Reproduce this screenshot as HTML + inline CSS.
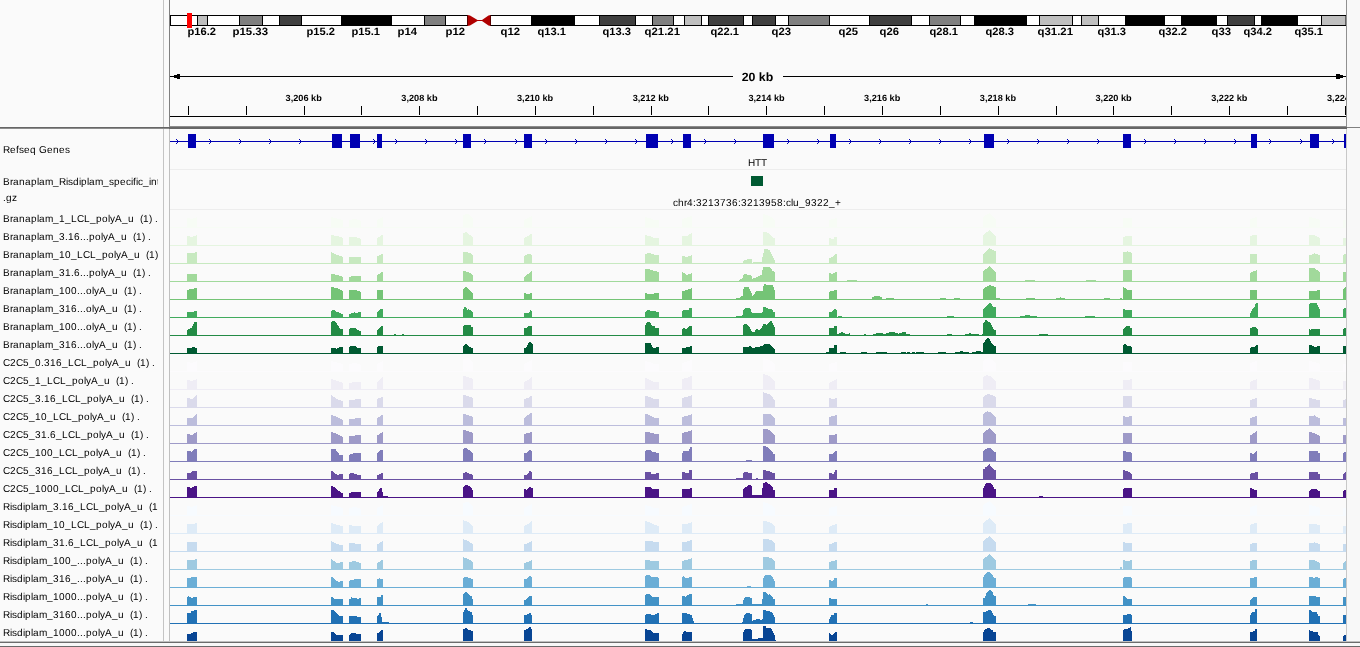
<!DOCTYPE html>
<html><head><meta charset="utf-8"><title>IGV</title>
<style>
html,body{margin:0;padding:0;background:#fafafa;}
body{width:1360px;height:647px;overflow:hidden;position:relative;font-family:"Liberation Sans", sans-serif;}
svg{position:absolute;left:0;top:0;display:block;}
text{font-family:"Liberation Sans", sans-serif;text-rendering:geometricPrecision;}
#root{position:absolute;left:0;top:0;width:1360px;height:647px;will-change:transform;}
</style></head><body><div id="root">
<svg width="1360" height="647" viewBox="0 0 1360 647">
<rect x="0" y="0" width="1360" height="647" fill="#fafafa"/>
<g shape-rendering="crispEdges">
<rect x="1347" y="0" width="13" height="647" fill="#f8f8f8"/>
<rect x="163" y="0" width="1" height="641" fill="#c4c4c4"/>
<rect x="169" y="0" width="1" height="127" fill="#808080"/>
<rect x="169" y="129" width="1" height="512" fill="#c0c0c0"/>
<rect x="1346" y="0" width="1" height="127" fill="#909090"/>
<rect x="1346" y="129" width="1" height="512" fill="#c8c8c8"/>
<rect x="0" y="127" width="1360" height="1" fill="#666666"/>
<rect x="0" y="128" width="169" height="1" fill="#8c8c8c"/>
<rect x="169" y="126" width="1178" height="1" fill="#8c8c8c"/>
<rect x="169" y="128" width="1178" height="1" fill="#666666"/>
<rect x="1347" y="127" width="13" height="1" fill="#808080"/>
<rect x="0" y="641" width="1360" height="1" fill="#c0c0c0"/>
<rect x="0" y="642" width="1360" height="1" fill="#6c6c6c"/>
<rect x="0" y="643" width="1360" height="3" fill="#f8f8f8"/>
<rect x="0" y="646" width="1360" height="1" fill="#6a6a6a"/>
</g>
<g>
<rect x="170.5" y="15.5" width="297" height="10" fill="#ffffff" stroke="#000" stroke-width="1"/>
<rect x="490.5" y="15.5" width="860" height="10" fill="#ffffff" stroke="#000" stroke-width="1"/>
<rect x="197.5" y="15.5" width="10" height="10" fill="#bfbfbf" stroke="#000" stroke-width="1"/>
<rect x="239.5" y="15.5" width="23" height="10" fill="#7f7f7f" stroke="#000" stroke-width="1"/>
<rect x="279.5" y="15.5" width="22" height="10" fill="#3f3f3f" stroke="#000" stroke-width="1"/>
<rect x="341.5" y="15.5" width="50" height="10" fill="#000000" stroke="#000" stroke-width="1"/>
<rect x="424.5" y="15.5" width="21" height="10" fill="#7f7f7f" stroke="#000" stroke-width="1"/>
<rect x="531.5" y="15.5" width="43" height="10" fill="#000000" stroke="#000" stroke-width="1"/>
<rect x="599.5" y="15.5" width="36" height="10" fill="#3f3f3f" stroke="#000" stroke-width="1"/>
<rect x="652.5" y="15.5" width="21" height="10" fill="#7f7f7f" stroke="#000" stroke-width="1"/>
<rect x="684.5" y="15.5" width="17" height="10" fill="#bfbfbf" stroke="#000" stroke-width="1"/>
<rect x="708.5" y="15.5" width="35" height="10" fill="#3f3f3f" stroke="#000" stroke-width="1"/>
<rect x="752.5" y="15.5" width="23" height="10" fill="#3f3f3f" stroke="#000" stroke-width="1"/>
<rect x="788.5" y="15.5" width="41" height="10" fill="#7f7f7f" stroke="#000" stroke-width="1"/>
<rect x="869.5" y="15.5" width="42" height="10" fill="#3f3f3f" stroke="#000" stroke-width="1"/>
<rect x="929.5" y="15.5" width="31" height="10" fill="#7f7f7f" stroke="#000" stroke-width="1"/>
<rect x="974.5" y="15.5" width="52" height="10" fill="#000000" stroke="#000" stroke-width="1"/>
<rect x="1039.5" y="15.5" width="33" height="10" fill="#bfbfbf" stroke="#000" stroke-width="1"/>
<rect x="1081.5" y="15.5" width="17" height="10" fill="#bfbfbf" stroke="#000" stroke-width="1"/>
<rect x="1125.5" y="15.5" width="39" height="10" fill="#000000" stroke="#000" stroke-width="1"/>
<rect x="1181.5" y="15.5" width="35" height="10" fill="#000000" stroke="#000" stroke-width="1"/>
<rect x="1227.5" y="15.5" width="27" height="10" fill="#3f3f3f" stroke="#000" stroke-width="1"/>
<rect x="1261.5" y="15.5" width="36" height="10" fill="#000000" stroke="#000" stroke-width="1"/>
<rect x="1321.5" y="15.5" width="24.5" height="10" fill="#bfbfbf" stroke="#000" stroke-width="1"/>
<polygon points="467.5,15 470,15.6 477.5,20 482,20 488.5,15.6 490.5,15 490.5,26 488.5,25.4 482,21 477.5,21 470,25.4 467.5,26" fill="#b00000"/>
<rect x="1347" y="10" width="13" height="20" fill="#f8f8f8"/>
<rect x="1346" y="10" width="1" height="20" fill="#909090"/>
<rect x="187" y="13" width="5" height="15" fill="#ff0000" shape-rendering="crispEdges"/>
</g>
<g font-size="10.6" font-weight="bold" fill="#000">
<text x="187.5" y="35" textLength="28.5" lengthAdjust="spacingAndGlyphs">p16.2</text>
<text x="232.5" y="35" textLength="35.5" lengthAdjust="spacingAndGlyphs">p15.33</text>
<text x="306.5" y="35" textLength="28.5" lengthAdjust="spacingAndGlyphs">p15.2</text>
<text x="351.5" y="35" textLength="28.5" lengthAdjust="spacingAndGlyphs">p15.1</text>
<text x="397.5" y="35" textLength="19.5" lengthAdjust="spacingAndGlyphs">p14</text>
<text x="445.5" y="35" textLength="19.5" lengthAdjust="spacingAndGlyphs">p12</text>
<text x="500.5" y="35" textLength="19.5" lengthAdjust="spacingAndGlyphs">q12</text>
<text x="537.5" y="35" textLength="28.5" lengthAdjust="spacingAndGlyphs">q13.1</text>
<text x="602.5" y="35" textLength="28.5" lengthAdjust="spacingAndGlyphs">q13.3</text>
<text x="644.5" y="35" textLength="35.5" lengthAdjust="spacingAndGlyphs">q21.21</text>
<text x="710.5" y="35" textLength="28.5" lengthAdjust="spacingAndGlyphs">q22.1</text>
<text x="771.5" y="35" textLength="19.5" lengthAdjust="spacingAndGlyphs">q23</text>
<text x="838.5" y="35" textLength="19.5" lengthAdjust="spacingAndGlyphs">q25</text>
<text x="879.5" y="35" textLength="19.5" lengthAdjust="spacingAndGlyphs">q26</text>
<text x="929.5" y="35" textLength="28.5" lengthAdjust="spacingAndGlyphs">q28.1</text>
<text x="985.5" y="35" textLength="28.5" lengthAdjust="spacingAndGlyphs">q28.3</text>
<text x="1037.5" y="35" textLength="35.5" lengthAdjust="spacingAndGlyphs">q31.21</text>
<text x="1097.5" y="35" textLength="28.5" lengthAdjust="spacingAndGlyphs">q31.3</text>
<text x="1158.5" y="35" textLength="28.5" lengthAdjust="spacingAndGlyphs">q32.2</text>
<text x="1211.5" y="35" textLength="19.5" lengthAdjust="spacingAndGlyphs">q33</text>
<text x="1243.5" y="35" textLength="28.5" lengthAdjust="spacingAndGlyphs">q34.2</text>
<text x="1294.5" y="35" textLength="28.5" lengthAdjust="spacingAndGlyphs">q35.1</text>
</g>
<g shape-rendering="crispEdges" fill="#000">
<rect x="170" y="76" width="563" height="1"/>
<rect x="783" y="76" width="563" height="1"/>
<rect x="170" y="116" width="1176" height="1"/>
<rect x="188" y="106" width="1" height="9"/>
<rect x="246" y="106" width="1" height="9"/>
<rect x="304" y="106" width="1" height="9"/>
<rect x="361" y="106" width="1" height="9"/>
<rect x="419" y="106" width="1" height="9"/>
<rect x="477" y="106" width="1" height="9"/>
<rect x="535" y="106" width="1" height="9"/>
<rect x="593" y="106" width="1" height="9"/>
<rect x="651" y="106" width="1" height="9"/>
<rect x="708" y="106" width="1" height="9"/>
<rect x="766" y="106" width="1" height="9"/>
<rect x="824" y="106" width="1" height="9"/>
<rect x="882" y="106" width="1" height="9"/>
<rect x="940" y="106" width="1" height="9"/>
<rect x="998" y="106" width="1" height="9"/>
<rect x="1056" y="106" width="1" height="9"/>
<rect x="1113" y="106" width="1" height="9"/>
<rect x="1171" y="106" width="1" height="9"/>
<rect x="1229" y="106" width="1" height="9"/>
<rect x="1287" y="106" width="1" height="9"/>
<rect x="1345" y="106" width="1" height="9"/>
</g>
<path shape-rendering="crispEdges" fill="#000" d="M174,75h3v-1h3v5h-3v-1h-3z M1336,74h4v1h3v3h-3v1h-4z"/>
<text x="757.5" y="81" font-size="12" font-weight="bold" text-anchor="middle" textLength="31.6" lengthAdjust="spacingAndGlyphs">20 kb</text>
<g font-size="9" font-weight="bold" text-anchor="middle" fill="#000">
<text x="303.7" y="101" textLength="36.2" lengthAdjust="spacingAndGlyphs">3,206 kb</text>
<text x="419.4" y="101" textLength="36.2" lengthAdjust="spacingAndGlyphs">3,208 kb</text>
<text x="535.1" y="101" textLength="36.2" lengthAdjust="spacingAndGlyphs">3,210 kb</text>
<text x="650.8" y="101" textLength="36.2" lengthAdjust="spacingAndGlyphs">3,212 kb</text>
<text x="766.5" y="101" textLength="36.2" lengthAdjust="spacingAndGlyphs">3,214 kb</text>
<text x="882.2" y="101" textLength="36.2" lengthAdjust="spacingAndGlyphs">3,216 kb</text>
<text x="997.9" y="101" textLength="36.2" lengthAdjust="spacingAndGlyphs">3,218 kb</text>
<text x="1113.6" y="101" textLength="36.2" lengthAdjust="spacingAndGlyphs">3,220 kb</text>
<text x="1229.3" y="101" textLength="36.2" lengthAdjust="spacingAndGlyphs">3,222 kb</text>
</g>
<clipPath id="cr"><rect x="170" y="60" width="1176" height="60"/></clipPath>
<g clip-path="url(#cr)"><text x="1327" y="101" font-size="9" font-weight="bold" textLength="36.2" lengthAdjust="spacingAndGlyphs">3,224 kb</text></g>
<g shape-rendering="crispEdges" fill="#0000b2">
<rect x="170" y="141" width="1176" height="1"/>
<rect x="188" y="134" width="8" height="14"/>
<rect x="332" y="134" width="10" height="14"/>
<rect x="350" y="134" width="10" height="14"/>
<rect x="377" y="134" width="5" height="14"/>
<rect x="463" y="134" width="8" height="14"/>
<rect x="524" y="134" width="8" height="14"/>
<rect x="646" y="134" width="12" height="14"/>
<rect x="683" y="134" width="8" height="14"/>
<rect x="763" y="134" width="11" height="14"/>
<rect x="830" y="134" width="6" height="14"/>
<rect x="984" y="134" width="10" height="14"/>
<rect x="1123" y="134" width="8" height="14"/>
<rect x="1251" y="134" width="6" height="14"/>
<rect x="1310" y="134" width="9" height="14"/>
<rect x="1344" y="134" width="2" height="14"/>
</g>
<path shape-rendering="crispEdges" fill="#0000b2" d="M176,139h1v1h1v1h-1v-1h-1z M176,144h1v-1h1v-1h-1v1h-1z M209,139h1v1h1v1h-1v-1h-1z M209,144h1v-1h1v-1h-1v1h-1z M239,139h1v1h1v1h-1v-1h-1z M239,144h1v-1h1v-1h-1v1h-1z M269,139h1v1h1v1h-1v-1h-1z M269,144h1v-1h1v-1h-1v1h-1z M299,139h1v1h1v1h-1v-1h-1z M299,144h1v-1h1v-1h-1v1h-1z M373,139h1v1h1v1h-1v-1h-1z M373,144h1v-1h1v-1h-1v1h-1z M395,139h1v1h1v1h-1v-1h-1z M395,144h1v-1h1v-1h-1v1h-1z M425,139h1v1h1v1h-1v-1h-1z M425,144h1v-1h1v-1h-1v1h-1z M455,139h1v1h1v1h-1v-1h-1z M455,144h1v-1h1v-1h-1v1h-1z M484,139h1v1h1v1h-1v-1h-1z M484,144h1v-1h1v-1h-1v1h-1z M515,139h1v1h1v1h-1v-1h-1z M515,144h1v-1h1v-1h-1v1h-1z M545,139h1v1h1v1h-1v-1h-1z M545,144h1v-1h1v-1h-1v1h-1z M575,139h1v1h1v1h-1v-1h-1z M575,144h1v-1h1v-1h-1v1h-1z M605,139h1v1h1v1h-1v-1h-1z M605,144h1v-1h1v-1h-1v1h-1z M635,139h1v1h1v1h-1v-1h-1z M635,144h1v-1h1v-1h-1v1h-1z M671,139h1v1h1v1h-1v-1h-1z M671,144h1v-1h1v-1h-1v1h-1z M704,139h1v1h1v1h-1v-1h-1z M704,144h1v-1h1v-1h-1v1h-1z M734,139h1v1h1v1h-1v-1h-1z M734,144h1v-1h1v-1h-1v1h-1z M787,139h1v1h1v1h-1v-1h-1z M787,144h1v-1h1v-1h-1v1h-1z M817,139h1v1h1v1h-1v-1h-1z M817,144h1v-1h1v-1h-1v1h-1z M849,139h1v1h1v1h-1v-1h-1z M849,144h1v-1h1v-1h-1v1h-1z M879,139h1v1h1v1h-1v-1h-1z M879,144h1v-1h1v-1h-1v1h-1z M909,139h1v1h1v1h-1v-1h-1z M909,144h1v-1h1v-1h-1v1h-1z M939,139h1v1h1v1h-1v-1h-1z M939,144h1v-1h1v-1h-1v1h-1z M969,139h1v1h1v1h-1v-1h-1z M969,144h1v-1h1v-1h-1v1h-1z M1007,139h1v1h1v1h-1v-1h-1z M1007,144h1v-1h1v-1h-1v1h-1z M1037,139h1v1h1v1h-1v-1h-1z M1037,144h1v-1h1v-1h-1v1h-1z M1067,139h1v1h1v1h-1v-1h-1z M1067,144h1v-1h1v-1h-1v1h-1z M1097,139h1v1h1v1h-1v-1h-1z M1097,144h1v-1h1v-1h-1v1h-1z M1144,139h1v1h1v1h-1v-1h-1z M1144,144h1v-1h1v-1h-1v1h-1z M1174,139h1v1h1v1h-1v-1h-1z M1174,144h1v-1h1v-1h-1v1h-1z M1204,139h1v1h1v1h-1v-1h-1z M1204,144h1v-1h1v-1h-1v1h-1z M1234,139h1v1h1v1h-1v-1h-1z M1234,144h1v-1h1v-1h-1v1h-1z M1269,139h1v1h1v1h-1v-1h-1z M1269,144h1v-1h1v-1h-1v1h-1z M1300,139h1v1h1v1h-1v-1h-1z M1300,144h1v-1h1v-1h-1v1h-1z M1332,139h1v1h1v1h-1v-1h-1z M1332,144h1v-1h1v-1h-1v1h-1z"/>
<text x="748 755 761" y="166" font-size="10">HTT</text>
<g shape-rendering="crispEdges" fill="#ededed">
<rect x="170" y="169" width="1176" height="1"/>
<rect x="170" y="209" width="1176" height="1"/>
</g>
<rect x="751" y="176" width="12" height="10" fill="#005a32" shape-rendering="crispEdges"/>
<text x="673 678 684 687 693 696 702 708 714 720 726 732 738 741 747 753 759 765 771 777 783 786 791 793 799 805 811 817 823 829 835" y="206" font-size="10">chr4:3213736:3213958:clu_9322_+</text>
<g shape-rendering="crispEdges">
<path fill="#f7fcf5" d="M187,227h3v-9h-3zM190,227h3v-8h-3zM193,227h3v-9h-3zM196,227h1v-10h-1zM331,227h2v-10h-2zM333,227h4v-9h-4zM337,227h4v-8h-4zM341,227h2v-7h-2zM349,227h3v-7h-3zM352,227h5v-8h-5zM357,227h3v-7h-3zM360,227h1v-6h-1zM377,227h1v-7h-1zM378,227h2v-8h-2zM380,227h2v-9h-2zM382,227h1v-10h-1zM463,227h2v-12h-2zM465,227h4v-13h-4zM469,227h1v-12h-1zM470,227h1v-11h-1zM471,227h1v-10h-1zM472,227h1v-9h-1zM524,227h1v-7h-1zM525,227h2v-8h-2zM527,227h2v-9h-2zM529,227h2v-10h-2zM531,227h1v-11h-1zM645,227h2v-10h-2zM647,227h4v-9h-4zM651,227h2v-8h-2zM653,227h6v-7h-6zM682,227h2v-8h-2zM684,227h3v-9h-3zM687,227h3v-10h-3zM690,227h2v-11h-2zM763,227h2v-13h-2zM765,227h3v-12h-3zM768,227h2v-11h-2zM770,227h2v-10h-2zM772,227h1v-9h-1zM773,227h1v-8h-1zM774,227h1v-7h-1zM829,227h2v-7h-2zM831,227h4v-8h-4zM835,227h2v-9h-2zM983,227h1v-10h-1zM984,227h1v-11h-1zM985,227h2v-12h-2zM987,227h2v-13h-2zM989,227h1v-14h-1zM990,227h1v-13h-1zM991,227h1v-12h-1zM992,227h1v-11h-1zM993,227h1v-10h-1zM994,227h1v-9h-1zM995,227h1v-8h-1zM1123,227h9v-9h-9zM1250,227h2v-8h-2zM1252,227h3v-9h-3zM1255,227h2v-10h-2zM1309,227h3v-10h-3zM1312,227h4v-9h-4zM1316,227h3v-8h-3zM1319,227h1v-7h-1zM1343,227h3v-7h-3z"/>
<rect x="170" y="227" width="1176" height="1" fill="#f7fcf5"/>
<path fill="#e5f5e0" d="M187,245h3v-9h-3zM190,245h3v-8h-3zM193,245h3v-9h-3zM196,245h1v-10h-1zM331,245h3v-10h-3zM334,245h5v-9h-5zM339,245h3v-8h-3zM342,245h1v-7h-1zM349,245h8v-8h-8zM357,245h3v-7h-3zM360,245h1v-6h-1zM377,245h1v-7h-1zM378,245h2v-8h-2zM380,245h1v-9h-1zM381,245h2v-10h-2zM463,245h2v-12h-2zM465,245h2v-13h-2zM467,245h1v-12h-1zM468,245h1v-11h-1zM469,245h2v-10h-2zM471,245h1v-9h-1zM472,245h1v-8h-1zM524,245h1v-7h-1zM525,245h2v-8h-2zM527,245h2v-9h-2zM529,245h1v-10h-1zM530,245h2v-11h-2zM645,245h2v-10h-2zM647,245h4v-9h-4zM651,245h2v-8h-2zM653,245h6v-7h-6zM682,245h6v-9h-6zM688,245h1v-10h-1zM689,245h2v-11h-2zM691,245h1v-12h-1zM763,245h4v-13h-4zM767,245h2v-12h-2zM769,245h1v-11h-1zM770,245h1v-10h-1zM771,245h1v-9h-1zM772,245h1v-8h-1zM773,245h2v-7h-2zM829,245h2v-7h-2zM831,245h3v-6h-3zM834,245h3v-8h-3zM983,245h1v-10h-1zM984,245h1v-11h-1zM985,245h1v-12h-1zM986,245h2v-13h-2zM988,245h1v-14h-1zM989,245h1v-15h-1zM990,245h1v-14h-1zM991,245h1v-13h-1zM992,245h1v-12h-1zM993,245h1v-11h-1zM994,245h1v-10h-1zM995,245h1v-9h-1zM1123,245h2v-8h-2zM1125,245h7v-9h-7zM1250,245h2v-9h-2zM1252,245h5v-10h-5zM1309,245h6v-10h-6zM1315,245h2v-9h-2zM1317,245h2v-8h-2zM1319,245h1v-7h-1zM1343,245h3v-7h-3z"/>
<rect x="170" y="245" width="1176" height="1" fill="#e5f5e0"/>
<path fill="#c7e9c0" d="M187,263h8v-10h-8zM195,263h2v-11h-2zM331,263h1v-11h-1zM332,263h2v-10h-2zM334,263h2v-9h-2zM336,263h3v-8h-3zM339,263h3v-7h-3zM342,263h1v-6h-1zM349,263h12v-6h-12zM377,263h2v-7h-2zM379,263h2v-8h-2zM381,263h2v-9h-2zM463,263h5v-11h-5zM468,263h3v-10h-3zM471,263h1v-9h-1zM472,263h1v-8h-1zM524,263h1v-7h-1zM525,263h2v-8h-2zM527,263h4v-9h-4zM531,263h1v-8h-1zM645,263h2v-9h-2zM647,263h4v-10h-4zM651,263h3v-9h-3zM654,263h5v-8h-5zM682,263h3v-7h-3zM685,263h3v-6h-3zM688,263h3v-7h-3zM691,263h1v-8h-1zM743,263h1v-2h-1zM744,263h3v-3h-3zM747,263h5v-4h-5zM753,263h9v-1h-9zM762,263h1v-6h-1zM763,263h1v-10h-1zM764,263h4v-14h-4zM768,263h2v-13h-2zM770,263h1v-11h-1zM771,263h1v-9h-1zM772,263h1v-7h-1zM773,263h1v-5h-1zM774,263h1v-3h-1zM829,263h2v-5h-2zM831,263h2v-6h-2zM833,263h1v-7h-1zM834,263h1v-8h-1zM835,263h2v-9h-2zM983,263h1v-9h-1zM984,263h1v-10h-1zM985,263h1v-11h-1zM986,263h1v-12h-1zM987,263h1v-13h-1zM988,263h1v-14h-1zM989,263h1v-15h-1zM990,263h2v-14h-2zM992,263h2v-13h-2zM994,263h2v-12h-2zM1123,263h4v-11h-4zM1127,263h1v-12h-1zM1128,263h3v-11h-3zM1131,263h1v-10h-1zM1250,263h7v-9h-7zM1309,263h3v-8h-3zM1312,263h2v-9h-2zM1314,263h1v-10h-1zM1315,263h3v-9h-3zM1318,263h2v-8h-2zM1343,263h1v-8h-1zM1344,263h2v-9h-2z"/>
<rect x="170" y="263" width="1176" height="1" fill="#c7e9c0"/>
<path fill="#a1d99b" d="M187,281h10v-7h-10zM331,281h4v-7h-4zM335,281h4v-6h-4zM339,281h3v-5h-3zM342,281h1v-4h-1zM349,281h2v-4h-2zM351,281h10v-5h-10zM377,281h1v-6h-1zM378,281h2v-7h-2zM380,281h1v-8h-1zM381,281h2v-9h-2zM463,281h3v-10h-3zM466,281h3v-9h-3zM469,281h2v-8h-2zM471,281h1v-7h-1zM472,281h1v-6h-1zM524,281h1v-4h-1zM525,281h1v-5h-1zM526,281h1v-6h-1zM527,281h2v-7h-2zM529,281h1v-8h-1zM530,281h1v-9h-1zM531,281h1v-10h-1zM645,281h5v-12h-5zM650,281h3v-11h-3zM653,281h4v-10h-4zM657,281h2v-9h-2zM682,281h1v-9h-1zM683,281h2v-8h-2zM685,281h1v-7h-1zM686,281h2v-6h-2zM688,281h3v-7h-3zM691,281h1v-8h-1zM739,281h1v-1h-1zM740,281h2v-2h-2zM742,281h1v-3h-1zM743,281h1v-6h-1zM744,281h3v-7h-3zM747,281h4v-6h-4zM751,281h1v-5h-1zM752,281h1v-2h-1zM753,281h3v-3h-3zM756,281h2v-4h-2zM758,281h2v-5h-2zM760,281h2v-6h-2zM762,281h1v-11h-1zM763,281h7v-14h-7zM770,281h1v-13h-1zM771,281h1v-12h-1zM772,281h2v-10h-2zM774,281h1v-9h-1zM829,281h2v-8h-2zM831,281h2v-7h-2zM833,281h2v-8h-2zM835,281h2v-9h-2zM847,281h10v-1h-10zM983,281h1v-10h-1zM984,281h1v-11h-1zM985,281h2v-12h-2zM987,281h1v-13h-1zM988,281h1v-14h-1zM989,281h1v-15h-1zM990,281h1v-14h-1zM991,281h1v-13h-1zM992,281h1v-12h-1zM993,281h1v-11h-1zM994,281h1v-10h-1zM995,281h1v-9h-1zM1025,281h10v-1h-10zM1086,281h10v-1h-10zM1123,281h9v-11h-9zM1250,281h1v-8h-1zM1251,281h2v-9h-2zM1253,281h3v-10h-3zM1256,281h1v-11h-1zM1309,281h6v-13h-6zM1315,281h1v-12h-1zM1316,281h2v-11h-2zM1318,281h1v-10h-1zM1319,281h1v-9h-1zM1343,281h3v-9h-3z"/>
<rect x="170" y="281" width="1176" height="1" fill="#a1d99b"/>
<path fill="#74c476" d="M187,299h2v-9h-2zM189,299h5v-10h-5zM194,299h3v-11h-3zM331,299h3v-12h-3zM334,299h4v-11h-4zM338,299h2v-10h-2zM340,299h2v-9h-2zM342,299h1v-8h-1zM349,299h8v-9h-8zM357,299h3v-8h-3zM360,299h1v-7h-1zM377,299h6v-9h-6zM463,299h1v-10h-1zM464,299h1v-11h-1zM465,299h2v-12h-2zM467,299h1v-11h-1zM468,299h1v-10h-1zM469,299h1v-9h-1zM470,299h1v-8h-1zM471,299h1v-7h-1zM472,299h1v-6h-1zM524,299h2v-6h-2zM526,299h4v-5h-4zM530,299h2v-6h-2zM645,299h2v-6h-2zM647,299h7v-5h-7zM654,299h5v-6h-5zM682,299h3v-8h-3zM685,299h3v-9h-3zM688,299h3v-10h-3zM691,299h1v-11h-1zM736,299h4v-1h-4zM740,299h1v-2h-1zM741,299h2v-3h-2zM743,299h1v-10h-1zM744,299h5v-12h-5zM749,299h1v-10h-1zM750,299h1v-8h-1zM751,299h1v-6h-1zM752,299h1v-3h-1zM753,299h1v-4h-1zM754,299h1v-5h-1zM755,299h1v-7h-1zM756,299h7v-8h-7zM763,299h1v-13h-1zM764,299h2v-15h-2zM766,299h7v-14h-7zM773,299h1v-12h-1zM774,299h1v-9h-1zM829,299h1v-7h-1zM830,299h4v-8h-4zM834,299h3v-9h-3zM872,299h2v-2h-2zM874,299h6v-3h-6zM880,299h2v-2h-2zM886,299h8v-1h-8zM940,299h6v-1h-6zM954,299h6v-1h-6zM983,299h1v-10h-1zM984,299h1v-11h-1zM985,299h2v-12h-2zM987,299h2v-13h-2zM989,299h2v-14h-2zM991,299h3v-13h-3zM994,299h2v-12h-2zM996,299h4v-1h-4zM1026,299h9v-1h-9zM1056,299h4v-1h-4zM1060,299h1v-2h-1zM1061,299h4v-1h-4zM1104,299h6v-1h-6zM1120,299h2v-1h-2zM1123,299h1v-12h-1zM1124,299h2v-11h-2zM1126,299h1v-10h-1zM1127,299h5v-9h-5zM1250,299h7v-9h-7zM1309,299h8v-8h-8zM1317,299h3v-9h-3zM1343,299h1v-10h-1zM1344,299h1v-11h-1zM1345,299h1v-12h-1z"/>
<rect x="170" y="299" width="1176" height="1" fill="#74c476"/>
<path fill="#41ab5d" d="M187,317h7v-5h-7zM194,317h3v-6h-3zM331,317h1v-6h-1zM332,317h3v-7h-3zM335,317h1v-6h-1zM336,317h3v-5h-3zM339,317h2v-4h-2zM341,317h2v-3h-2zM349,317h2v-3h-2zM351,317h3v-4h-3zM354,317h1v-5h-1zM355,317h3v-4h-3zM358,317h3v-5h-3zM377,317h1v-5h-1zM378,317h1v-6h-1zM379,317h1v-7h-1zM380,317h3v-8h-3zM463,317h1v-8h-1zM464,317h2v-10h-2zM466,317h1v-9h-1zM467,317h1v-7h-1zM468,317h1v-8h-1zM469,317h2v-7h-2zM471,317h1v-6h-1zM472,317h1v-5h-1zM524,317h5v-4h-5zM529,317h1v-5h-1zM530,317h1v-7h-1zM531,317h1v-6h-1zM645,317h1v-5h-1zM646,317h1v-6h-1zM647,317h3v-7h-3zM650,317h6v-6h-6zM656,317h3v-5h-3zM682,317h1v-6h-1zM683,317h6v-7h-6zM689,317h3v-9h-3zM736,317h6v-1h-6zM742,317h1v-2h-1zM743,317h1v-7h-1zM744,317h1v-8h-1zM745,317h5v-9h-5zM750,317h1v-8h-1zM751,317h1v-5h-1zM752,317h10v-4h-10zM762,317h1v-5h-1zM763,317h3v-10h-3zM766,317h2v-9h-2zM768,317h4v-8h-4zM772,317h1v-7h-1zM773,317h2v-5h-2zM829,317h3v-5h-3zM832,317h1v-6h-1zM833,317h1v-7h-1zM834,317h2v-8h-2zM836,317h1v-7h-1zM838,317h4v-1h-4zM947,317h7v-1h-7zM983,317h1v-8h-1zM984,317h1v-9h-1zM985,317h1v-10h-1zM986,317h1v-11h-1zM987,317h1v-12h-1zM988,317h1v-13h-1zM989,317h2v-14h-2zM991,317h1v-13h-1zM992,317h1v-11h-1zM993,317h3v-10h-3zM1020,317h5v-1h-5zM1025,317h5v-2h-5zM1030,317h7v-1h-7zM1085,317h10v-1h-10zM1123,317h2v-8h-2zM1125,317h7v-7h-7zM1250,317h1v-4h-1zM1251,317h1v-6h-1zM1252,317h1v-8h-1zM1253,317h1v-9h-1zM1254,317h1v-10h-1zM1255,317h1v-13h-1zM1256,317h2v-14h-2zM1309,317h1v-13h-1zM1310,317h7v-14h-7zM1317,317h1v-12h-1zM1318,317h1v-10h-1zM1319,317h1v-8h-1zM1343,317h1v-8h-1zM1344,317h2v-9h-2z"/>
<rect x="170" y="317" width="1176" height="1" fill="#41ab5d"/>
<path fill="#238b45" d="M187,335h1v-5h-1zM188,335h2v-6h-2zM190,335h2v-7h-2zM192,335h1v-9h-1zM193,335h1v-11h-1zM194,335h3v-13h-3zM331,335h1v-13h-1zM332,335h3v-14h-3zM335,335h1v-13h-1zM336,335h1v-12h-1zM337,335h1v-10h-1zM338,335h1v-9h-1zM339,335h1v-7h-1zM340,335h3v-6h-3zM349,335h1v-6h-1zM350,335h6v-7h-6zM356,335h1v-6h-1zM357,335h2v-5h-2zM359,335h2v-4h-2zM377,335h1v-5h-1zM378,335h1v-6h-1zM379,335h1v-7h-1zM380,335h1v-8h-1zM381,335h2v-9h-2zM394,335h2v-1h-2zM402,335h2v-1h-2zM463,335h1v-9h-1zM464,335h7v-10h-7zM471,335h2v-8h-2zM524,335h3v-7h-3zM527,335h1v-8h-1zM528,335h4v-9h-4zM645,335h1v-10h-1zM646,335h1v-12h-1zM647,335h3v-13h-3zM650,335h1v-12h-1zM651,335h1v-10h-1zM652,335h3v-9h-3zM655,335h4v-7h-4zM682,335h1v-6h-1zM683,335h2v-7h-2zM685,335h2v-6h-2zM687,335h1v-7h-1zM688,335h1v-8h-1zM689,335h3v-9h-3zM743,335h1v-10h-1zM744,335h3v-11h-3zM747,335h1v-10h-1zM748,335h1v-9h-1zM749,335h1v-8h-1zM750,335h1v-6h-1zM751,335h1v-4h-1zM752,335h3v-3h-3zM755,335h1v-5h-1zM756,335h2v-6h-2zM758,335h2v-5h-2zM760,335h1v-6h-1zM761,335h1v-7h-1zM762,335h1v-9h-1zM763,335h3v-11h-3zM766,335h1v-10h-1zM767,335h1v-11h-1zM768,335h1v-12h-1zM769,335h1v-13h-1zM770,335h2v-14h-2zM772,335h1v-12h-1zM773,335h1v-10h-1zM774,335h1v-8h-1zM829,335h5v-7h-5zM834,335h3v-9h-3zM837,335h2v-1h-2zM839,335h2v-2h-2zM841,335h2v-3h-2zM843,335h2v-2h-2zM845,335h4v-1h-4zM849,335h1v-2h-1zM864,335h2v-1h-2zM873,335h3v-1h-3zM876,335h7v-2h-7zM883,335h3v-1h-3zM886,335h3v-2h-3zM889,335h6v-3h-6zM895,335h3v-2h-3zM898,335h1v-1h-1zM899,335h3v-2h-3zM902,335h4v-3h-4zM906,335h4v-1h-4zM947,335h5v-1h-5zM965,335h4v-1h-4zM969,335h2v-2h-2zM971,335h8v-1h-8zM982,335h1v-1h-1zM983,335h1v-12h-1zM984,335h1v-13h-1zM985,335h2v-15h-2zM987,335h1v-14h-1zM988,335h2v-13h-2zM990,335h1v-12h-1zM991,335h1v-10h-1zM992,335h1v-8h-1zM993,335h1v-6h-1zM994,335h2v-5h-2zM1039,335h9v-1h-9zM1123,335h1v-6h-1zM1124,335h1v-7h-1zM1125,335h1v-8h-1zM1126,335h4v-9h-4zM1130,335h2v-7h-2zM1250,335h2v-7h-2zM1252,335h4v-8h-4zM1256,335h1v-7h-1zM1257,335h1v-6h-1zM1309,335h1v-6h-1zM1310,335h1v-5h-1zM1311,335h9v-6h-9zM1343,335h1v-6h-1zM1344,335h2v-7h-2z"/>
<rect x="170" y="335" width="1176" height="1" fill="#238b45"/>
<path fill="#005a32" d="M187,353h5v-5h-5zM192,353h3v-6h-3zM195,353h2v-5h-2zM331,353h5v-5h-5zM336,353h1v-4h-1zM337,353h2v-5h-2zM339,353h4v-6h-4zM349,353h1v-6h-1zM350,353h6v-7h-6zM356,353h1v-6h-1zM357,353h4v-5h-4zM377,353h1v-6h-1zM378,353h5v-7h-5zM463,353h1v-7h-1zM464,353h1v-8h-1zM465,353h2v-9h-2zM467,353h1v-8h-1zM468,353h1v-7h-1zM469,353h2v-6h-2zM471,353h2v-5h-2zM524,353h2v-5h-2zM526,353h1v-6h-1zM527,353h1v-8h-1zM528,353h1v-10h-1zM529,353h2v-11h-2zM531,353h1v-10h-1zM532,353h1v-9h-1zM645,353h6v-10h-6zM651,353h1v-8h-1zM652,353h1v-6h-1zM653,353h3v-5h-3zM656,353h3v-6h-3zM682,353h4v-5h-4zM686,353h4v-6h-4zM690,353h2v-7h-2zM743,353h6v-6h-6zM749,353h2v-7h-2zM751,353h1v-6h-1zM752,353h3v-5h-3zM755,353h5v-6h-5zM760,353h3v-7h-3zM763,353h1v-8h-1zM764,353h6v-9h-6zM770,353h1v-8h-1zM771,353h1v-7h-1zM772,353h1v-6h-1zM773,353h1v-5h-1zM774,353h1v-4h-1zM826,353h3v-1h-3zM829,353h5v-5h-5zM834,353h3v-8h-3zM840,353h6v-1h-6zM861,353h6v-1h-6zM876,353h11v-1h-11zM901,353h5v-1h-5zM907,353h3v-1h-3zM912,353h3v-1h-3zM916,353h8v-1h-8zM938,353h8v-1h-8zM955,353h5v-1h-5zM960,353h3v-2h-3zM963,353h6v-1h-6zM972,353h4v-1h-4zM976,353h5v-2h-5zM981,353h2v-1h-2zM983,353h1v-10h-1zM984,353h1v-11h-1zM985,353h1v-13h-1zM986,353h1v-14h-1zM987,353h2v-15h-2zM989,353h1v-14h-1zM990,353h1v-12h-1zM991,353h1v-10h-1zM992,353h1v-9h-1zM993,353h1v-8h-1zM994,353h2v-7h-2zM1123,353h1v-8h-1zM1124,353h2v-9h-2zM1126,353h1v-8h-1zM1127,353h4v-7h-4zM1131,353h1v-6h-1zM1250,353h1v-5h-1zM1251,353h4v-6h-4zM1255,353h1v-7h-1zM1256,353h2v-8h-2zM1309,353h3v-8h-3zM1312,353h2v-7h-2zM1314,353h3v-6h-3zM1317,353h3v-7h-3zM1343,353h3v-7h-3z"/>
<rect x="170" y="353" width="1176" height="1" fill="#005a32"/>
<path fill="#fcfbfd" d="M187,371h3v-9h-3zM190,371h3v-8h-3zM193,371h3v-9h-3zM196,371h1v-10h-1zM331,371h2v-10h-2zM333,371h4v-9h-4zM337,371h4v-8h-4zM341,371h2v-7h-2zM349,371h3v-7h-3zM352,371h5v-8h-5zM357,371h3v-7h-3zM360,371h1v-6h-1zM377,371h1v-7h-1zM378,371h2v-8h-2zM380,371h2v-9h-2zM382,371h1v-10h-1zM463,371h2v-12h-2zM465,371h4v-13h-4zM469,371h1v-12h-1zM470,371h1v-11h-1zM471,371h1v-10h-1zM472,371h1v-9h-1zM524,371h1v-7h-1zM525,371h2v-8h-2zM527,371h2v-9h-2zM529,371h2v-10h-2zM531,371h1v-11h-1zM645,371h2v-10h-2zM647,371h4v-9h-4zM651,371h2v-8h-2zM653,371h6v-7h-6zM682,371h2v-8h-2zM684,371h3v-9h-3zM687,371h3v-10h-3zM690,371h2v-11h-2zM763,371h2v-13h-2zM765,371h3v-12h-3zM768,371h2v-11h-2zM770,371h2v-10h-2zM772,371h1v-9h-1zM773,371h1v-8h-1zM774,371h1v-7h-1zM829,371h2v-7h-2zM831,371h4v-8h-4zM835,371h2v-9h-2zM983,371h1v-10h-1zM984,371h1v-11h-1zM985,371h2v-12h-2zM987,371h2v-13h-2zM989,371h1v-14h-1zM990,371h1v-13h-1zM991,371h1v-12h-1zM992,371h1v-11h-1zM993,371h1v-10h-1zM994,371h1v-9h-1zM995,371h1v-8h-1zM1123,371h9v-9h-9zM1250,371h2v-8h-2zM1252,371h3v-9h-3zM1255,371h2v-10h-2zM1309,371h3v-10h-3zM1312,371h4v-9h-4zM1316,371h3v-8h-3zM1319,371h1v-7h-1zM1343,371h3v-7h-3z"/>
<rect x="170" y="371" width="1176" height="1" fill="#fcfbfd"/>
<path fill="#efedf5" d="M187,389h3v-9h-3zM190,389h3v-8h-3zM193,389h3v-9h-3zM196,389h1v-10h-1zM331,389h2v-10h-2zM333,389h3v-9h-3zM336,389h3v-8h-3zM339,389h3v-7h-3zM342,389h1v-6h-1zM349,389h3v-6h-3zM352,389h9v-7h-9zM377,389h1v-7h-1zM378,389h1v-8h-1zM379,389h1v-9h-1zM380,389h1v-10h-1zM381,389h1v-11h-1zM382,389h1v-12h-1zM463,389h3v-13h-3zM466,389h3v-12h-3zM469,389h3v-11h-3zM472,389h1v-10h-1zM524,389h1v-7h-1zM525,389h2v-8h-2zM527,389h2v-9h-2zM529,389h1v-10h-1zM530,389h1v-11h-1zM531,389h1v-12h-1zM645,389h2v-11h-2zM647,389h2v-10h-2zM649,389h2v-9h-2zM651,389h2v-8h-2zM653,389h6v-7h-6zM682,389h2v-10h-2zM684,389h4v-11h-4zM688,389h2v-12h-2zM690,389h2v-13h-2zM763,389h2v-15h-2zM765,389h3v-14h-3zM768,389h2v-13h-2zM770,389h1v-12h-1zM771,389h1v-11h-1zM772,389h1v-10h-1zM773,389h1v-9h-1zM774,389h1v-8h-1zM829,389h1v-6h-1zM830,389h2v-7h-2zM832,389h2v-8h-2zM834,389h2v-9h-2zM836,389h1v-10h-1zM983,389h1v-12h-1zM984,389h2v-13h-2zM986,389h2v-14h-2zM988,389h3v-13h-3zM991,389h1v-12h-1zM992,389h1v-11h-1zM993,389h1v-10h-1zM994,389h1v-9h-1zM995,389h1v-8h-1zM1123,389h7v-9h-7zM1130,389h2v-10h-2zM1250,389h1v-7h-1zM1251,389h2v-8h-2zM1253,389h3v-9h-3zM1256,389h1v-10h-1zM1309,389h4v-11h-4zM1313,389h3v-10h-3zM1316,389h3v-9h-3zM1319,389h1v-8h-1zM1343,389h3v-8h-3z"/>
<rect x="170" y="389" width="1176" height="1" fill="#efedf5"/>
<path fill="#dadaeb" d="M187,407h3v-9h-3zM190,407h3v-8h-3zM193,407h1v-9h-1zM194,407h1v-10h-1zM195,407h1v-11h-1zM196,407h1v-12h-1zM331,407h1v-12h-1zM332,407h1v-11h-1zM333,407h2v-10h-2zM335,407h1v-9h-1zM336,407h2v-8h-2zM338,407h3v-7h-3zM341,407h2v-6h-2zM349,407h6v-7h-6zM355,407h6v-8h-6zM377,407h1v-8h-1zM378,407h3v-9h-3zM381,407h2v-10h-2zM463,407h3v-12h-3zM466,407h3v-11h-3zM469,407h3v-10h-3zM472,407h1v-9h-1zM524,407h2v-8h-2zM526,407h3v-9h-3zM529,407h1v-10h-1zM530,407h2v-11h-2zM645,407h3v-11h-3zM648,407h3v-10h-3zM651,407h2v-9h-2zM653,407h6v-8h-6zM682,407h2v-9h-2zM684,407h4v-10h-4zM688,407h3v-11h-3zM691,407h1v-12h-1zM763,407h1v-15h-1zM764,407h3v-14h-3zM767,407h3v-13h-3zM770,407h1v-12h-1zM771,407h1v-11h-1zM772,407h1v-10h-1zM773,407h1v-8h-1zM774,407h1v-7h-1zM829,407h2v-9h-2zM831,407h4v-8h-4zM835,407h2v-9h-2zM983,407h1v-10h-1zM984,407h1v-11h-1zM985,407h2v-12h-2zM987,407h3v-13h-3zM990,407h3v-12h-3zM993,407h2v-11h-2zM995,407h1v-10h-1zM1123,407h9v-11h-9zM1250,407h2v-7h-2zM1252,407h3v-8h-3zM1255,407h2v-9h-2zM1309,407h3v-9h-3zM1312,407h4v-8h-4zM1316,407h4v-7h-4zM1343,407h2v-7h-2zM1345,407h1v-8h-1z"/>
<rect x="170" y="407" width="1176" height="1" fill="#dadaeb"/>
<path fill="#bcbddc" d="M187,425h6v-7h-6zM193,425h1v-8h-1zM194,425h1v-9h-1zM195,425h1v-10h-1zM196,425h1v-11h-1zM331,425h2v-10h-2zM333,425h3v-9h-3zM336,425h2v-8h-2zM338,425h2v-7h-2zM340,425h2v-6h-2zM342,425h1v-5h-1zM349,425h6v-6h-6zM355,425h6v-7h-6zM377,425h1v-7h-1zM378,425h2v-8h-2zM380,425h1v-9h-1zM381,425h2v-10h-2zM463,425h3v-11h-3zM466,425h3v-10h-3zM469,425h3v-9h-3zM472,425h1v-8h-1zM524,425h1v-7h-1zM525,425h1v-8h-1zM526,425h1v-9h-1zM527,425h2v-10h-2zM529,425h1v-11h-1zM530,425h2v-12h-2zM645,425h3v-11h-3zM648,425h2v-10h-2zM650,425h2v-9h-2zM652,425h2v-8h-2zM654,425h5v-7h-5zM682,425h2v-8h-2zM684,425h4v-9h-4zM688,425h3v-10h-3zM691,425h1v-11h-1zM763,425h8v-11h-8zM771,425h1v-10h-1zM772,425h1v-9h-1zM773,425h1v-8h-1zM774,425h1v-7h-1zM829,425h2v-8h-2zM831,425h4v-9h-4zM835,425h2v-10h-2zM983,425h1v-11h-1zM984,425h1v-12h-1zM985,425h2v-13h-2zM987,425h1v-14h-1zM988,425h3v-13h-3zM991,425h1v-12h-1zM992,425h1v-11h-1zM993,425h1v-10h-1zM994,425h1v-9h-1zM995,425h1v-8h-1zM1123,425h2v-9h-2zM1125,425h4v-8h-4zM1129,425h3v-9h-3zM1250,425h2v-7h-2zM1252,425h3v-8h-3zM1255,425h2v-9h-2zM1309,425h5v-9h-5zM1314,425h1v-10h-1zM1315,425h1v-9h-1zM1316,425h2v-8h-2zM1318,425h2v-7h-2zM1343,425h3v-7h-3z"/>
<rect x="170" y="425" width="1176" height="1" fill="#bcbddc"/>
<path fill="#9e9ac8" d="M187,443h3v-9h-3zM190,443h3v-8h-3zM193,443h1v-9h-1zM194,443h2v-10h-2zM196,443h1v-11h-1zM331,443h2v-11h-2zM333,443h3v-10h-3zM336,443h2v-9h-2zM338,443h2v-8h-2zM340,443h2v-7h-2zM342,443h1v-6h-1zM349,443h6v-7h-6zM355,443h6v-8h-6zM377,443h2v-8h-2zM379,443h1v-9h-1zM380,443h2v-10h-2zM382,443h1v-11h-1zM463,443h3v-13h-3zM466,443h3v-12h-3zM469,443h3v-11h-3zM472,443h1v-10h-1zM524,443h2v-9h-2zM526,443h4v-10h-4zM530,443h2v-11h-2zM645,443h5v-11h-5zM650,443h4v-10h-4zM654,443h5v-9h-5zM682,443h2v-10h-2zM684,443h4v-11h-4zM688,443h3v-12h-3zM691,443h1v-13h-1zM763,443h5v-14h-5zM768,443h2v-13h-2zM770,443h1v-12h-1zM771,443h1v-11h-1zM772,443h1v-10h-1zM773,443h1v-9h-1zM774,443h1v-8h-1zM829,443h6v-8h-6zM835,443h2v-9h-2zM983,443h1v-10h-1zM984,443h1v-11h-1zM985,443h1v-12h-1zM986,443h2v-13h-2zM988,443h1v-14h-1zM989,443h1v-15h-1zM990,443h1v-14h-1zM991,443h1v-13h-1zM992,443h1v-12h-1zM993,443h1v-11h-1zM994,443h1v-10h-1zM995,443h1v-9h-1zM1123,443h9v-10h-9zM1250,443h2v-8h-2zM1252,443h1v-9h-1zM1253,443h2v-10h-2zM1255,443h1v-11h-1zM1256,443h1v-12h-1zM1309,443h3v-11h-3zM1312,443h3v-10h-3zM1315,443h2v-9h-2zM1317,443h2v-8h-2zM1319,443h1v-7h-1zM1343,443h3v-8h-3z"/>
<rect x="170" y="443" width="1176" height="1" fill="#9e9ac8"/>
<path fill="#807dba" d="M187,461h4v-10h-4zM191,461h1v-9h-1zM192,461h1v-10h-1zM193,461h1v-11h-1zM194,461h3v-12h-3zM331,461h5v-12h-5zM336,461h1v-10h-1zM337,461h1v-9h-1zM338,461h1v-8h-1zM339,461h4v-6h-4zM349,461h1v-6h-1zM350,461h3v-7h-3zM353,461h8v-8h-8zM377,461h1v-8h-1zM378,461h1v-9h-1zM379,461h1v-10h-1zM380,461h3v-11h-3zM463,461h1v-12h-1zM464,461h3v-13h-3zM467,461h1v-12h-1zM468,461h2v-11h-2zM470,461h1v-10h-1zM471,461h1v-9h-1zM472,461h1v-8h-1zM524,461h3v-8h-3zM527,461h1v-9h-1zM528,461h1v-10h-1zM529,461h2v-11h-2zM531,461h1v-10h-1zM645,461h1v-10h-1zM646,461h5v-11h-5zM651,461h1v-10h-1zM652,461h4v-9h-4zM656,461h3v-8h-3zM682,461h1v-8h-1zM683,461h6v-10h-6zM689,461h1v-12h-1zM690,461h2v-14h-2zM746,461h6v-1h-6zM763,461h3v-15h-3zM766,461h2v-14h-2zM768,461h1v-13h-1zM769,461h1v-12h-1zM770,461h1v-11h-1zM771,461h1v-10h-1zM772,461h1v-9h-1zM773,461h2v-7h-2zM829,461h4v-7h-4zM833,461h1v-8h-1zM834,461h1v-9h-1zM835,461h2v-10h-2zM983,461h1v-10h-1zM984,461h1v-11h-1zM985,461h2v-12h-2zM987,461h4v-13h-4zM991,461h1v-12h-1zM992,461h1v-11h-1zM993,461h1v-10h-1zM994,461h2v-9h-2zM1123,461h3v-10h-3zM1126,461h5v-9h-5zM1131,461h1v-8h-1zM1250,461h2v-8h-2zM1252,461h2v-7h-2zM1254,461h1v-8h-1zM1255,461h1v-9h-1zM1256,461h1v-10h-1zM1309,461h9v-10h-9zM1318,461h2v-8h-2zM1343,461h1v-8h-1zM1344,461h2v-9h-2z"/>
<rect x="170" y="461" width="1176" height="1" fill="#807dba"/>
<path fill="#6a51a3" d="M187,479h4v-6h-4zM191,479h1v-7h-1zM192,479h5v-8h-5zM331,479h2v-8h-2zM333,479h1v-7h-1zM334,479h1v-6h-1zM335,479h2v-5h-2zM337,479h2v-4h-2zM339,479h4v-5h-4zM349,479h1v-5h-1zM350,479h4v-6h-4zM354,479h3v-5h-3zM357,479h4v-4h-4zM377,479h2v-4h-2zM379,479h2v-5h-2zM381,479h2v-6h-2zM463,479h2v-6h-2zM465,479h2v-7h-2zM467,479h2v-6h-2zM469,479h3v-5h-3zM472,479h1v-4h-1zM524,479h3v-4h-3zM527,479h1v-5h-1zM528,479h1v-6h-1zM529,479h2v-8h-2zM531,479h1v-7h-1zM645,479h6v-7h-6zM651,479h5v-5h-5zM656,479h3v-6h-3zM682,479h3v-7h-3zM685,479h4v-6h-4zM689,479h3v-9h-3zM736,479h7v-1h-7zM743,479h1v-6h-1zM744,479h4v-7h-4zM748,479h4v-6h-4zM756,479h2v-1h-2zM763,479h3v-9h-3zM766,479h4v-8h-4zM770,479h2v-7h-2zM772,479h3v-6h-3zM829,479h3v-6h-3zM832,479h2v-5h-2zM834,479h1v-7h-1zM835,479h2v-9h-2zM983,479h2v-10h-2zM985,479h2v-12h-2zM987,479h1v-13h-1zM988,479h1v-14h-1zM989,479h1v-15h-1zM990,479h1v-13h-1zM991,479h1v-12h-1zM992,479h1v-11h-1zM993,479h1v-10h-1zM994,479h2v-9h-2zM1123,479h2v-9h-2zM1125,479h3v-8h-3zM1128,479h2v-7h-2zM1130,479h1v-6h-1zM1131,479h1v-5h-1zM1250,479h1v-5h-1zM1251,479h4v-6h-4zM1255,479h3v-7h-3zM1309,479h9v-7h-9zM1318,479h2v-5h-2zM1343,479h1v-5h-1zM1344,479h1v-6h-1zM1345,479h1v-7h-1z"/>
<rect x="170" y="479" width="1176" height="1" fill="#6a51a3"/>
<path fill="#4a1486" d="M187,497h3v-10h-3zM190,497h2v-9h-2zM192,497h2v-10h-2zM194,497h3v-11h-3zM331,497h2v-11h-2zM333,497h2v-10h-2zM335,497h1v-9h-1zM336,497h1v-8h-1zM337,497h1v-7h-1zM338,497h2v-6h-2zM340,497h1v-5h-1zM341,497h2v-4h-2zM349,497h2v-4h-2zM351,497h10v-5h-10zM377,497h1v-5h-1zM378,497h1v-6h-1zM379,497h1v-8h-1zM380,497h2v-9h-2zM382,497h1v-5h-1zM383,497h5v-1h-5zM463,497h1v-10h-1zM464,497h1v-11h-1zM465,497h3v-12h-3zM468,497h2v-11h-2zM470,497h1v-10h-1zM471,497h1v-9h-1zM472,497h1v-7h-1zM524,497h2v-8h-2zM526,497h1v-7h-1zM527,497h1v-8h-1zM528,497h1v-9h-1zM529,497h2v-10h-2zM531,497h2v-9h-2zM645,497h6v-10h-6zM651,497h1v-9h-1zM652,497h7v-8h-7zM682,497h8v-8h-8zM690,497h2v-9h-2zM743,497h1v-8h-1zM744,497h1v-9h-1zM745,497h2v-10h-2zM747,497h1v-11h-1zM748,497h3v-12h-3zM751,497h1v-11h-1zM752,497h10v-2h-10zM762,497h1v-9h-1zM763,497h2v-14h-2zM765,497h2v-15h-2zM767,497h1v-14h-1zM768,497h2v-13h-2zM770,497h1v-12h-1zM771,497h1v-11h-1zM772,497h1v-10h-1zM773,497h2v-7h-2zM829,497h5v-7h-5zM834,497h3v-9h-3zM983,497h1v-9h-1zM984,497h1v-11h-1zM985,497h1v-13h-1zM986,497h5v-14h-5zM991,497h1v-13h-1zM992,497h1v-12h-1zM993,497h1v-10h-1zM994,497h2v-8h-2zM1039,497h4v-1h-4zM1123,497h1v-8h-1zM1124,497h8v-9h-8zM1250,497h2v-9h-2zM1252,497h2v-8h-2zM1254,497h3v-7h-3zM1309,497h1v-6h-1zM1310,497h1v-7h-1zM1311,497h6v-8h-6zM1317,497h1v-7h-1zM1318,497h2v-6h-2zM1343,497h1v-6h-1zM1344,497h2v-7h-2z"/>
<rect x="170" y="497" width="1176" height="1" fill="#4a1486"/>
<path fill="#f7fbff" d="M187,515h3v-9h-3zM190,515h3v-8h-3zM193,515h3v-9h-3zM196,515h1v-10h-1zM331,515h2v-10h-2zM333,515h4v-9h-4zM337,515h4v-8h-4zM341,515h2v-7h-2zM349,515h3v-7h-3zM352,515h5v-8h-5zM357,515h3v-7h-3zM360,515h1v-6h-1zM377,515h1v-7h-1zM378,515h2v-8h-2zM380,515h2v-9h-2zM382,515h1v-10h-1zM463,515h2v-12h-2zM465,515h4v-13h-4zM469,515h1v-12h-1zM470,515h1v-11h-1zM471,515h1v-10h-1zM472,515h1v-9h-1zM524,515h1v-7h-1zM525,515h2v-8h-2zM527,515h2v-9h-2zM529,515h2v-10h-2zM531,515h1v-11h-1zM645,515h2v-10h-2zM647,515h4v-9h-4zM651,515h2v-8h-2zM653,515h6v-7h-6zM682,515h2v-8h-2zM684,515h3v-9h-3zM687,515h3v-10h-3zM690,515h2v-11h-2zM763,515h2v-13h-2zM765,515h3v-12h-3zM768,515h2v-11h-2zM770,515h2v-10h-2zM772,515h1v-9h-1zM773,515h1v-8h-1zM774,515h1v-7h-1zM829,515h2v-7h-2zM831,515h4v-8h-4zM835,515h2v-9h-2zM983,515h1v-10h-1zM984,515h1v-11h-1zM985,515h2v-12h-2zM987,515h2v-13h-2zM989,515h1v-14h-1zM990,515h1v-13h-1zM991,515h1v-12h-1zM992,515h1v-11h-1zM993,515h1v-10h-1zM994,515h1v-9h-1zM995,515h1v-8h-1zM1123,515h9v-9h-9zM1250,515h2v-8h-2zM1252,515h3v-9h-3zM1255,515h2v-10h-2zM1309,515h3v-10h-3zM1312,515h4v-9h-4zM1316,515h3v-8h-3zM1319,515h1v-7h-1zM1343,515h3v-7h-3z"/>
<rect x="170" y="515" width="1176" height="1" fill="#f7fbff"/>
<path fill="#deebf7" d="M187,533h8v-9h-8zM195,533h2v-10h-2zM331,533h2v-10h-2zM333,533h3v-9h-3zM336,533h4v-8h-4zM340,533h3v-7h-3zM349,533h3v-8h-3zM352,533h9v-7h-9zM377,533h1v-7h-1zM378,533h1v-8h-1zM379,533h1v-9h-1zM380,533h2v-10h-2zM382,533h1v-11h-1zM463,533h1v-13h-1zM464,533h3v-12h-3zM467,533h2v-11h-2zM469,533h1v-10h-1zM470,533h1v-9h-1zM471,533h1v-8h-1zM472,533h1v-7h-1zM524,533h1v-7h-1zM525,533h2v-8h-2zM527,533h2v-9h-2zM529,533h1v-10h-1zM530,533h1v-11h-1zM531,533h1v-12h-1zM645,533h2v-12h-2zM647,533h3v-11h-3zM650,533h2v-10h-2zM652,533h2v-9h-2zM654,533h3v-8h-3zM657,533h2v-7h-2zM682,533h6v-9h-6zM688,533h3v-10h-3zM691,533h1v-11h-1zM763,533h4v-12h-4zM767,533h3v-11h-3zM770,533h2v-10h-2zM772,533h1v-9h-1zM773,533h1v-8h-1zM774,533h1v-7h-1zM829,533h1v-6h-1zM830,533h2v-7h-2zM832,533h3v-8h-3zM835,533h2v-9h-2zM983,533h1v-10h-1zM984,533h1v-11h-1zM985,533h1v-12h-1zM986,533h2v-13h-2zM988,533h1v-14h-1zM989,533h1v-15h-1zM990,533h1v-14h-1zM991,533h1v-13h-1zM992,533h1v-12h-1zM993,533h1v-11h-1zM994,533h1v-10h-1zM995,533h1v-9h-1zM1123,533h4v-9h-4zM1127,533h5v-10h-5zM1250,533h1v-8h-1zM1251,533h3v-9h-3zM1254,533h3v-10h-3zM1309,533h8v-9h-8zM1317,533h3v-8h-3zM1343,533h3v-7h-3z"/>
<rect x="170" y="533" width="1176" height="1" fill="#deebf7"/>
<path fill="#c6dbef" d="M187,551h10v-9h-10zM331,551h1v-10h-1zM332,551h2v-9h-2zM334,551h2v-8h-2zM336,551h3v-7h-3zM339,551h4v-6h-4zM349,551h6v-8h-6zM355,551h6v-7h-6zM377,551h2v-7h-2zM379,551h1v-8h-1zM380,551h2v-9h-2zM382,551h1v-10h-1zM463,551h1v-12h-1zM464,551h3v-11h-3zM467,551h2v-10h-2zM469,551h1v-9h-1zM470,551h2v-8h-2zM472,551h1v-7h-1zM524,551h3v-7h-3zM527,551h2v-8h-2zM529,551h2v-9h-2zM531,551h1v-10h-1zM645,551h8v-10h-8zM653,551h6v-9h-6zM682,551h5v-9h-5zM687,551h3v-10h-3zM690,551h2v-11h-2zM763,551h6v-12h-6zM769,551h3v-11h-3zM772,551h1v-10h-1zM773,551h1v-9h-1zM774,551h1v-8h-1zM829,551h3v-7h-3zM832,551h2v-8h-2zM834,551h3v-9h-3zM983,551h1v-10h-1zM984,551h1v-11h-1zM985,551h1v-12h-1zM986,551h2v-13h-2zM988,551h1v-14h-1zM989,551h1v-15h-1zM990,551h1v-14h-1zM991,551h1v-13h-1zM992,551h1v-12h-1zM993,551h1v-11h-1zM994,551h1v-10h-1zM995,551h1v-9h-1zM1123,551h2v-9h-2zM1125,551h7v-8h-7zM1250,551h2v-7h-2zM1252,551h5v-8h-5zM1309,551h5v-8h-5zM1314,551h1v-9h-1zM1315,551h3v-8h-3zM1318,551h2v-7h-2zM1343,551h3v-7h-3z"/>
<rect x="170" y="551" width="1176" height="1" fill="#c6dbef"/>
<path fill="#9ecae1" d="M187,569h8v-9h-8zM195,569h2v-10h-2zM331,569h1v-10h-1zM332,569h1v-9h-1zM333,569h2v-8h-2zM335,569h1v-7h-1zM336,569h4v-6h-4zM340,569h3v-7h-3zM349,569h3v-7h-3zM352,569h4v-8h-4zM356,569h3v-7h-3zM359,569h2v-6h-2zM377,569h1v-6h-1zM378,569h2v-7h-2zM380,569h1v-8h-1zM381,569h2v-9h-2zM463,569h1v-12h-1zM464,569h3v-11h-3zM467,569h2v-10h-2zM469,569h2v-9h-2zM471,569h1v-8h-1zM472,569h1v-7h-1zM524,569h2v-6h-2zM526,569h3v-7h-3zM529,569h2v-8h-2zM531,569h1v-9h-1zM645,569h5v-9h-5zM650,569h9v-8h-9zM682,569h2v-8h-2zM684,569h4v-9h-4zM688,569h3v-10h-3zM691,569h1v-11h-1zM763,569h6v-12h-6zM769,569h3v-11h-3zM772,569h1v-10h-1zM773,569h1v-9h-1zM774,569h1v-8h-1zM829,569h2v-7h-2zM831,569h4v-8h-4zM835,569h2v-9h-2zM983,569h1v-10h-1zM984,569h1v-11h-1zM985,569h2v-12h-2zM987,569h1v-13h-1zM988,569h1v-14h-1zM989,569h1v-15h-1zM990,569h1v-14h-1zM991,569h1v-13h-1zM992,569h1v-12h-1zM993,569h1v-11h-1zM994,569h1v-10h-1zM995,569h1v-9h-1zM1120,569h2v-2h-2zM1123,569h2v-9h-2zM1125,569h5v-8h-5zM1130,569h2v-9h-2zM1250,569h2v-8h-2zM1252,569h5v-9h-5zM1309,569h6v-9h-6zM1315,569h2v-8h-2zM1317,569h2v-7h-2zM1319,569h1v-6h-1zM1343,569h1v-6h-1zM1344,569h1v-7h-1zM1345,569h1v-8h-1z"/>
<rect x="170" y="569" width="1176" height="1" fill="#9ecae1"/>
<path fill="#6baed6" d="M187,587h4v-9h-4zM191,587h6v-10h-6zM331,587h2v-10h-2zM333,587h1v-9h-1zM334,587h1v-8h-1zM335,587h1v-7h-1zM336,587h2v-6h-2zM338,587h2v-5h-2zM340,587h3v-6h-3zM349,587h1v-6h-1zM350,587h4v-7h-4zM354,587h7v-8h-7zM377,587h2v-8h-2zM379,587h1v-9h-1zM380,587h3v-8h-3zM463,587h1v-9h-1zM464,587h4v-10h-4zM468,587h3v-9h-3zM471,587h2v-8h-2zM524,587h3v-8h-3zM527,587h1v-9h-1zM528,587h1v-10h-1zM529,587h2v-11h-2zM531,587h1v-10h-1zM645,587h1v-11h-1zM646,587h4v-12h-4zM650,587h1v-11h-1zM651,587h7v-10h-7zM658,587h1v-9h-1zM682,587h1v-10h-1zM683,587h1v-11h-1zM684,587h1v-10h-1zM685,587h4v-9h-4zM689,587h3v-10h-3zM747,587h4v-1h-4zM763,587h1v-9h-1zM764,587h1v-11h-1zM765,587h6v-12h-6zM771,587h1v-11h-1zM772,587h1v-10h-1zM773,587h1v-8h-1zM774,587h1v-6h-1zM829,587h2v-7h-2zM831,587h2v-6h-2zM833,587h1v-7h-1zM834,587h3v-9h-3zM983,587h1v-10h-1zM984,587h1v-12h-1zM985,587h1v-13h-1zM986,587h1v-14h-1zM987,587h3v-15h-3zM990,587h1v-14h-1zM991,587h1v-13h-1zM992,587h1v-12h-1zM993,587h1v-10h-1zM994,587h2v-9h-2zM1123,587h1v-9h-1zM1124,587h7v-10h-7zM1131,587h1v-9h-1zM1250,587h4v-9h-4zM1254,587h3v-10h-3zM1309,587h4v-10h-4zM1313,587h2v-9h-2zM1315,587h3v-10h-3zM1318,587h2v-9h-2zM1343,587h1v-8h-1zM1344,587h2v-9h-2z"/>
<rect x="170" y="587" width="1176" height="1" fill="#6baed6"/>
<path fill="#4292c6" d="M187,605h1v-8h-1zM188,605h1v-9h-1zM189,605h2v-8h-2zM191,605h2v-7h-2zM193,605h4v-8h-4zM331,605h2v-8h-2zM333,605h1v-7h-1zM334,605h9v-6h-9zM349,605h2v-6h-2zM351,605h1v-8h-1zM352,605h5v-7h-5zM357,605h2v-6h-2zM359,605h2v-7h-2zM377,605h4v-8h-4zM381,605h2v-10h-2zM463,605h1v-11h-1zM464,605h1v-12h-1zM465,605h2v-13h-2zM467,605h1v-12h-1zM468,605h1v-11h-1zM469,605h1v-10h-1zM470,605h2v-9h-2zM472,605h1v-6h-1zM524,605h2v-5h-2zM526,605h1v-6h-1zM527,605h1v-7h-1zM528,605h1v-8h-1zM529,605h3v-9h-3zM645,605h1v-10h-1zM646,605h4v-11h-4zM650,605h1v-10h-1zM651,605h1v-9h-1zM652,605h7v-8h-7zM682,605h3v-9h-3zM685,605h1v-8h-1zM686,605h1v-9h-1zM687,605h2v-10h-2zM689,605h3v-11h-3zM736,605h7v-1h-7zM743,605h1v-5h-1zM744,605h1v-7h-1zM745,605h5v-8h-5zM750,605h2v-7h-2zM752,605h10v-1h-10zM762,605h1v-6h-1zM763,605h3v-13h-3zM766,605h1v-12h-1zM767,605h1v-11h-1zM768,605h1v-10h-1zM769,605h1v-11h-1zM770,605h1v-10h-1zM771,605h1v-9h-1zM772,605h1v-8h-1zM773,605h2v-6h-2zM829,605h2v-7h-2zM831,605h6v-6h-6zM926,605h2v-1h-2zM983,605h2v-7h-2zM985,605h1v-9h-1zM986,605h1v-12h-1zM987,605h1v-13h-1zM988,605h1v-14h-1zM989,605h2v-15h-2zM991,605h1v-14h-1zM992,605h1v-13h-1zM993,605h1v-10h-1zM994,605h2v-9h-2zM1028,605h8v-1h-8zM1123,605h2v-9h-2zM1125,605h1v-8h-1zM1126,605h1v-7h-1zM1127,605h5v-6h-5zM1250,605h1v-5h-1zM1251,605h1v-6h-1zM1252,605h1v-7h-1zM1253,605h4v-8h-4zM1309,605h7v-9h-7zM1316,605h4v-8h-4zM1343,605h3v-8h-3z"/>
<rect x="170" y="605" width="1176" height="1" fill="#4292c6"/>
<path fill="#2171b5" d="M187,623h4v-10h-4zM191,623h3v-12h-3zM194,623h3v-13h-3zM331,623h3v-13h-3zM334,623h1v-12h-1zM335,623h1v-11h-1zM336,623h1v-10h-1zM337,623h1v-9h-1zM338,623h1v-8h-1zM339,623h4v-7h-4zM349,623h8v-7h-8zM357,623h4v-6h-4zM377,623h1v-7h-1zM378,623h1v-8h-1zM379,623h2v-10h-2zM381,623h1v-6h-1zM382,623h7v-1h-7zM463,623h1v-11h-1zM464,623h1v-13h-1zM465,623h2v-15h-2zM467,623h1v-13h-1zM468,623h2v-12h-2zM470,623h2v-11h-2zM472,623h1v-8h-1zM524,623h3v-8h-3zM527,623h2v-9h-2zM529,623h2v-10h-2zM531,623h1v-8h-1zM645,623h1v-8h-1zM646,623h5v-9h-5zM651,623h4v-8h-4zM655,623h2v-9h-2zM657,623h2v-10h-2zM682,623h5v-10h-5zM687,623h3v-9h-3zM690,623h2v-8h-2zM692,623h1v-5h-1zM693,623h1v-2h-1zM742,623h1v-1h-1zM743,623h1v-5h-1zM744,623h1v-8h-1zM745,623h1v-9h-1zM746,623h4v-10h-4zM750,623h2v-9h-2zM752,623h1v-2h-1zM753,623h3v-3h-3zM756,623h4v-4h-4zM760,623h2v-3h-2zM762,623h1v-4h-1zM763,623h3v-13h-3zM766,623h4v-12h-4zM770,623h2v-11h-2zM772,623h1v-10h-1zM773,623h1v-8h-1zM774,623h1v-6h-1zM829,623h1v-4h-1zM830,623h1v-6h-1zM831,623h3v-8h-3zM834,623h3v-10h-3zM970,623h3v-1h-3zM983,623h3v-11h-3zM986,623h2v-12h-2zM988,623h3v-13h-3zM991,623h1v-12h-1zM992,623h1v-10h-1zM993,623h1v-8h-1zM994,623h2v-7h-2zM1123,623h4v-8h-4zM1127,623h4v-9h-4zM1131,623h1v-8h-1zM1250,623h1v-8h-1zM1251,623h1v-10h-1zM1252,623h3v-11h-3zM1255,623h2v-14h-2zM1309,623h2v-13h-2zM1311,623h1v-12h-1zM1312,623h5v-11h-5zM1317,623h1v-9h-1zM1318,623h2v-7h-2zM1343,623h3v-8h-3z"/>
<rect x="170" y="623" width="1176" height="1" fill="#2171b5"/>
<path fill="#084594" d="M187,641h4v-7h-4zM191,641h2v-8h-2zM193,641h4v-9h-4zM331,641h3v-9h-3zM334,641h1v-8h-1zM335,641h1v-7h-1zM336,641h7v-6h-7zM349,641h1v-6h-1zM350,641h1v-7h-1zM351,641h5v-8h-5zM356,641h5v-7h-5zM377,641h2v-8h-2zM379,641h1v-9h-1zM380,641h1v-10h-1zM381,641h2v-11h-2zM463,641h2v-12h-2zM465,641h2v-13h-2zM467,641h1v-12h-1zM468,641h3v-11h-3zM471,641h2v-10h-2zM524,641h2v-11h-2zM526,641h2v-12h-2zM528,641h1v-13h-1zM529,641h2v-14h-2zM531,641h1v-12h-1zM645,641h2v-12h-2zM647,641h4v-11h-4zM651,641h1v-10h-1zM652,641h1v-9h-1zM653,641h6v-8h-6zM682,641h1v-7h-1zM683,641h1v-9h-1zM684,641h2v-10h-2zM686,641h6v-9h-6zM743,641h1v-9h-1zM744,641h1v-11h-1zM745,641h6v-12h-6zM751,641h1v-11h-1zM752,641h6v-2h-6zM758,641h5v-3h-5zM763,641h3v-15h-3zM766,641h5v-13h-5zM771,641h1v-12h-1zM772,641h1v-10h-1zM773,641h1v-8h-1zM774,641h1v-6h-1zM775,641h1v-1h-1zM829,641h1v-8h-1zM830,641h1v-7h-1zM831,641h2v-6h-2zM833,641h1v-7h-1zM834,641h1v-8h-1zM835,641h2v-9h-2zM983,641h1v-9h-1zM984,641h1v-11h-1zM985,641h2v-12h-2zM987,641h3v-13h-3zM990,641h1v-12h-1zM991,641h2v-11h-2zM993,641h3v-9h-3zM1123,641h1v-11h-1zM1124,641h4v-12h-4zM1128,641h2v-13h-2zM1130,641h1v-14h-1zM1131,641h1v-10h-1zM1250,641h3v-9h-3zM1253,641h2v-10h-2zM1255,641h2v-12h-2zM1309,641h1v-11h-1zM1310,641h3v-10h-3zM1313,641h5v-9h-5zM1318,641h1v-6h-1zM1319,641h1v-5h-1zM1343,641h1v-5h-1zM1344,641h2v-6h-2z"/>
<rect x="170" y="641" width="1176" height="1" fill="#084594"/>
</g>
<rect x="0" y="641" width="1360" height="1" fill="#c0c0c0" shape-rendering="crispEdges"/>
<clipPath id="cl"><rect x="0" y="129" width="158" height="512"/></clipPath>
<g clip-path="url(#cl)" font-size="10" fill="#000" style="white-space:pre">
<text y="153" x="3 10 16 19 24 30 36 39 47 53 59 65">Refseq&#160;Genes</text>
<text y="185" x="3 10 13 19 25 31 37 39 45 53 59 66 68 73 79 81 87 89 95 103 109 114 120 126 131 133 136 138 143 149 151 157">Branaplam_Risdiplam_specific_int</text>
<text y="201" x="3 6 12">.gz</text>
<text y="222" x="3 10 13 19 25 31 37 39 45 53 59 65 71 77 84 90 96 102 108 110 115 122 128 134 137 140 143 149 152 155">Branaplam_1_LCL_polyA_u&#160;&#160;(1)&#160;.</text>
<text y="240" x="3 10 13 19 25 31 37 39 45 53 59 65 68 74 80 83 86 89 95 101 103 108 115 121 127 130 133 136 142 145 148">Branaplam_3.16...polyA_u&#160;&#160;(1)&#160;.</text>
<text y="258" x="3 10 13 19 25 31 37 39 45 53 59 65 71 77 83 90 96 102 108 114 116 121 128 134 140 143 146 149 155 158 161">Branaplam_10_LCL_polyA_u&#160;&#160;(1)&#160;.</text>
<text y="276" x="3 10 13 19 25 31 37 39 45 53 59 65 71 74 80 83 86 89 95 101 103 108 115 121 127 130 133 136 142 145 148">Branaplam_31.6...polyA_u&#160;&#160;(1)&#160;.</text>
<text y="294" x="3 10 13 19 25 31 37 39 45 53 59 65 71 77 80 83 86 92 94 99 106 112 118 121 124 127 133 136 139">Branaplam_100...olyA_u&#160;&#160;(1)&#160;.</text>
<text y="312" x="3 10 13 19 25 31 37 39 45 53 59 65 71 77 80 83 86 92 94 99 106 112 118 121 124 127 133 136 139">Branaplam_316...olyA_u&#160;&#160;(1)&#160;.</text>
<text y="330" x="3 10 13 19 25 31 37 39 45 53 59 65 71 77 80 83 86 92 94 99 106 112 118 121 124 127 133 136 139">Branaplam_100...olyA_u&#160;&#160;(1)&#160;.</text>
<text y="348" x="3 10 13 19 25 31 37 39 45 53 59 65 71 77 80 83 86 92 94 99 106 112 118 121 124 127 133 136 139">Branaplam_316...olyA_u&#160;&#160;(1)&#160;.</text>
<text y="366" x="3 10 16 23 29 35 41 44 50 56 62 68 74 81 87 93 99 105 107 112 119 125 131 134 137 140 146 149 152">C2C5_0.316_LCL_polyA_u&#160;&#160;(1)&#160;.</text>
<text y="384" x="3 10 16 23 29 35 41 47 53 60 66 72 78 84 86 91 98 104 110 113 116 119 125 128 131">C2C5_1_LCL_polyA_u&#160;&#160;(1)&#160;.</text>
<text y="402" x="3 10 16 23 29 35 41 44 50 56 62 68 75 81 87 93 99 101 106 113 119 125 128 131 134 140 143 146">C2C5_3.16_LCL_polyA_u&#160;&#160;(1)&#160;.</text>
<text y="420" x="3 10 16 23 29 35 41 47 53 59 66 72 78 84 90 92 97 104 110 116 119 122 125 131 134 137">C2C5_10_LCL_polyA_u&#160;&#160;(1)&#160;.</text>
<text y="438" x="3 10 16 23 29 35 41 47 50 56 62 68 75 81 87 93 99 101 106 113 119 125 128 131 134 140 143 146">C2C5_31.6_LCL_polyA_u&#160;&#160;(1)&#160;.</text>
<text y="456" x="3 10 16 23 29 35 41 47 53 59 65 72 78 84 90 96 98 103 110 116 122 125 128 131 137 140 143">C2C5_100_LCL_polyA_u&#160;&#160;(1)&#160;.</text>
<text y="474" x="3 10 16 23 29 35 41 47 53 59 65 72 78 84 90 96 98 103 110 116 122 125 128 131 137 140 143">C2C5_316_LCL_polyA_u&#160;&#160;(1)&#160;.</text>
<text y="492" x="3 10 16 23 29 35 41 47 53 59 65 71 78 84 90 96 102 104 109 116 122 128 131 134 137 143 146 149">C2C5_1000_LCL_polyA_u&#160;&#160;(1)&#160;.</text>
<text y="510" x="3 10 12 17 23 25 31 33 39 47 53 59 62 68 74 80 86 93 99 105 111 117 119 124 131 137 143 146 149 152 158 161 164">Risdiplam_3.16_LCL_polyA_u&#160;&#160;(1)&#160;.</text>
<text y="528" x="3 10 12 17 23 25 31 33 39 47 53 59 65 71 77 84 90 96 102 108 110 115 122 128 134 137 140 143 149 152 155">Risdiplam_10_LCL_polyA_u&#160;&#160;(1)&#160;.</text>
<text y="546" x="3 10 12 17 23 25 31 33 39 47 53 59 65 68 74 80 86 93 99 105 111 117 119 124 131 137 143 146 149 152 158 161 164">Risdiplam_31.6_LCL_polyA_u&#160;&#160;(1)&#160;.</text>
<text y="564" x="3 10 12 17 23 25 31 33 39 47 53 59 65 71 77 80 83 86 92 98 100 105 112 118 124 127 130 133 139 142 145">Risdiplam_100_...polyA_u&#160;&#160;(1)&#160;.</text>
<text y="582" x="3 10 12 17 23 25 31 33 39 47 53 59 65 71 77 80 83 86 92 98 100 105 112 118 124 127 130 133 139 142 145">Risdiplam_316_...polyA_u&#160;&#160;(1)&#160;.</text>
<text y="600" x="3 10 12 17 23 25 31 33 39 47 53 59 65 71 77 80 83 86 92 98 100 105 112 118 124 127 130 133 139 142 145">Risdiplam_1000...polyA_u&#160;&#160;(1)&#160;.</text>
<text y="618" x="3 10 12 17 23 25 31 33 39 47 53 59 65 71 77 80 83 86 92 98 100 105 112 118 124 127 130 133 139 142 145">Risdiplam_3160...polyA_u&#160;&#160;(1)&#160;.</text>
<text y="636" x="3 10 12 17 23 25 31 33 39 47 53 59 65 71 77 80 83 86 92 98 100 105 112 118 124 127 130 133 139 142 145">Risdiplam_1000...polyA_u&#160;&#160;(1)&#160;.</text>
</g>
</svg>
</div></body></html>
